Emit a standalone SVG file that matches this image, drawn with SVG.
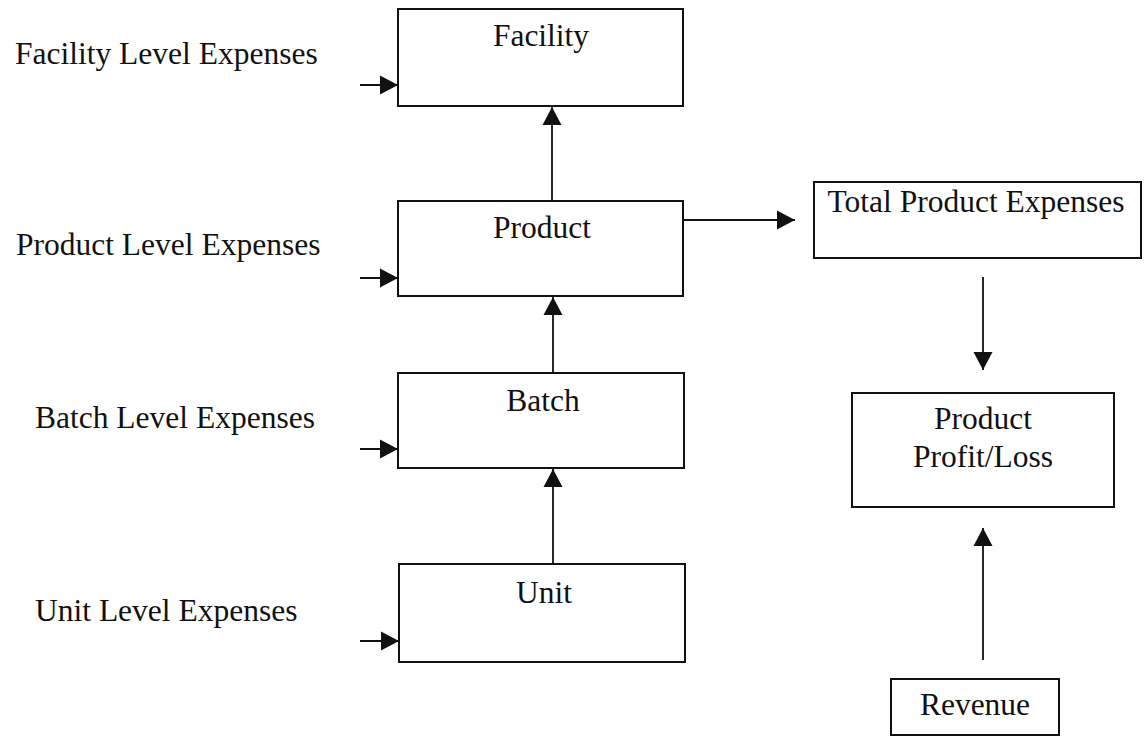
<svg xmlns="http://www.w3.org/2000/svg" width="1145" height="736" viewBox="0 0 1145 736">
  <style>
    .box { fill: #ffffff; stroke: #111111; stroke-width: 2; }
    .lbl { font-family: "Liberation Serif", "Times New Roman", serif; font-size: 31.5px; fill: #111111; }
    .mid { text-anchor: middle; }
    .edge { fill: none; stroke: #111111; stroke-width: 1.8; }
  </style>
  <defs>
    <marker id="arrow" markerUnits="userSpaceOnUse" markerWidth="20" markerHeight="20" viewBox="0 0 20 20" refX="19" refY="10" orient="auto">
      <path d="M1,0.5 L19,10 L1,19.5 Z" fill="#111111"/>
    </marker>
  </defs>

  <rect width="1145" height="736" fill="#ffffff"/>

  <!-- cost-level labels on the left -->
  <g id="labels">
    <text class="lbl" x="15" y="64">Facility Level Expenses</text>
    <text class="lbl" x="16" y="255">Product Level Expenses</text>
    <text class="lbl" x="35" y="428">Batch Level Expenses</text>
    <text class="lbl" x="35" y="621">Unit Level Expenses</text>
  </g>

  <g id="facility">
    <rect class="box" x="398" y="9" width="285" height="97"/>
    <text class="lbl mid" x="541" y="46">Facility</text>
  </g>

  <g id="product">
    <rect class="box" x="398" y="201" width="285" height="95"/>
    <text class="lbl mid" x="542" y="238">Product</text>
  </g>

  <g id="batch">
    <rect class="box" x="398" y="373" width="286" height="95"/>
    <text class="lbl mid" x="543" y="411">Batch</text>
  </g>

  <g id="unit">
    <rect class="box" x="399" y="564" width="286" height="98"/>
    <text class="lbl mid" x="544" y="603">Unit</text>
  </g>

  <g id="total-product-expenses">
    <rect class="box" x="814" y="182" width="327" height="76"/>
    <text class="lbl mid" x="976" y="212">Total Product Expenses</text>
  </g>

  <g id="product-profit-loss">
    <rect class="box" x="852" y="393" width="262" height="114"/>
    <text class="lbl mid" x="983" y="429">Product</text>
    <text class="lbl mid" x="983" y="467">Profit/Loss</text>
  </g>

  <g id="revenue">
    <rect class="box" x="891" y="679" width="168" height="56"/>
    <text class="lbl mid" x="975" y="715">Revenue</text>
  </g>

  <g id="connectors">
    <!-- expense inputs -->
    <line class="edge" x1="360" y1="85" x2="398" y2="85" marker-end="url(#arrow)"/>
    <line class="edge" x1="360" y1="278" x2="398" y2="278" marker-end="url(#arrow)"/>
    <line class="edge" x1="360" y1="449" x2="398" y2="449" marker-end="url(#arrow)"/>
    <line class="edge" x1="360" y1="641" x2="399" y2="641" marker-end="url(#arrow)"/>
    <!-- roll-up chain -->
    <line class="edge" x1="553" y1="564" x2="553" y2="469" marker-end="url(#arrow)"/>
    <line class="edge" x1="553" y1="373" x2="553" y2="297" marker-end="url(#arrow)"/>
    <line class="edge" x1="552" y1="201" x2="552" y2="107" marker-end="url(#arrow)"/>
    <!-- product totals and profit -->
    <line class="edge" x1="683" y1="220" x2="795" y2="220" marker-end="url(#arrow)"/>
    <line class="edge" x1="983" y1="277" x2="983" y2="370" marker-end="url(#arrow)"/>
    <line class="edge" x1="983" y1="660" x2="983" y2="528" marker-end="url(#arrow)"/>
  </g>
</svg>
